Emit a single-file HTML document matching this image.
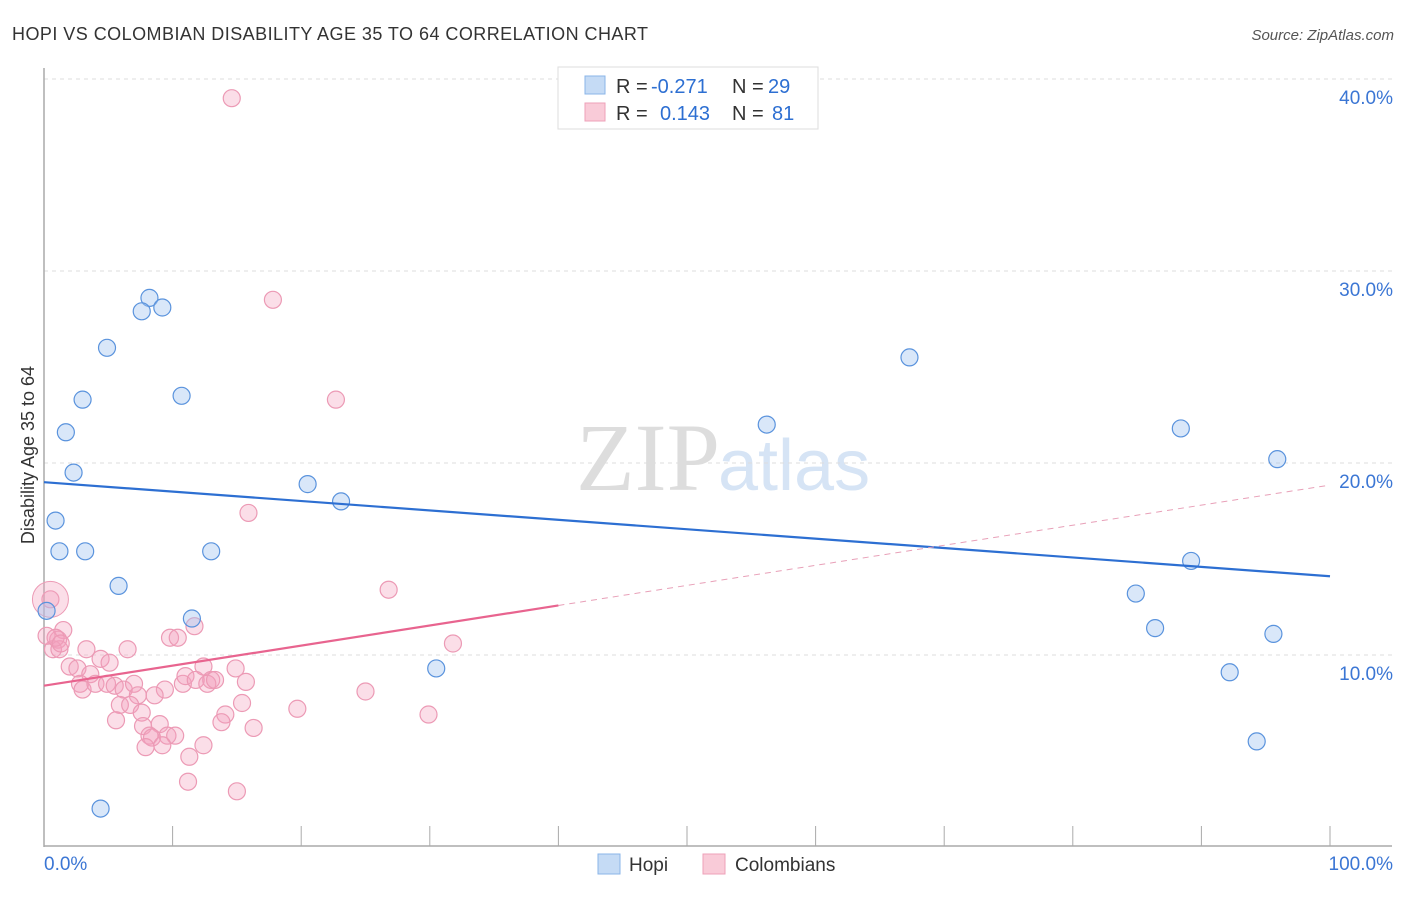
<!DOCTYPE html>
<html><head><meta charset="utf-8"><style>
body{margin:0;background:#fff;font-family:"Liberation Sans",sans-serif}
svg text{font-family:"Liberation Sans",sans-serif}
</style></head><body>
<svg width="1406" height="892" id="c">
<text x="12" y="40" font-size="18" fill="#333" textLength="636">HOPI VS COLOMBIAN DISABILITY AGE 35 TO 64 CORRELATION CHART</text>
<text x="1394" y="40" font-size="15" fill="#555" font-style="italic" text-anchor="end">Source: ZipAtlas.com</text>
<text x="720" y="490" font-size="96" fill="#ddd" text-anchor="end" style="font-family:'Liberation Serif',serif">ZIP</text>
<text x="718" y="490" font-size="72" fill="#d6e4f5">atlas</text>
<g id="grid"></g><g id="axes"></g><g id="pts"></g><g id="lines"></g>
<text x="34" y="455" font-size="18" fill="#333" text-anchor="middle" transform="rotate(-90 34 455)">Disability Age 35 to 64</text>
<g>
<rect x="558" y="67" width="260" height="62" fill="#fff" stroke="#ddd"/>
<rect x="585" y="76" width="20" height="18" fill="#c5dbf5" stroke="#8ab4e8"/>
<rect x="585" y="103" width="20" height="18" fill="#f9cbd8" stroke="#eea0b8"/>
<text x="616" y="93" font-size="20" fill="#333">R =</text>
<text x="651" y="93" font-size="20" fill="#2d6fd2">-0.271</text>
<text x="732" y="93" font-size="20" fill="#333">N =</text>
<text x="768" y="93" font-size="20" fill="#2d6fd2">29</text>
<text x="616" y="120" font-size="20" fill="#333">R =</text>
<text x="660" y="120" font-size="20" fill="#2d6fd2">0.143</text>
<text x="732" y="120" font-size="20" fill="#333">N =</text>
<text x="772" y="120" font-size="20" fill="#2d6fd2">81</text>
</g>
<g>
<rect x="598" y="854" width="22" height="20" fill="#c5dbf5" stroke="#8ab4e8"/>
<text x="629" y="871" font-size="19" fill="#333">Hopi</text>
<rect x="703" y="854" width="22" height="20" fill="#f9cbd8" stroke="#eea0b8"/>
<text x="735" y="871" font-size="19" fill="#333">Colombians</text>
</g>
</svg>
<script>
const yTicks=[10,20,30,40];
const xTickLabels=["0.0%","100.0%"];
const hopiX=[8.2,7.6,9.2,4.9,3.0,10.7,1.7,2.3,0.9,1.2,3.2,5.8,13.0,20.5,23.1,11.5,0.2,30.5,4.4,56.2,67.3,88.4,95.9,89.2,84.9,86.4,95.6,92.2,94.3];
const hopiY=[28.6,27.9,28.1,26.0,23.3,23.5,21.6,19.5,17.0,15.4,15.4,13.6,15.4,18.9,18.0,11.9,12.3,9.3,2.0,22.0,25.5,21.8,20.2,14.9,13.2,11.4,11.1,9.1,5.5];
const colX=[1.5,1.1,0.7,1.2,3.3,4.4,5.1,6.5,9.8,10.4,11.7,26.8,31.8,2.0,2.6,3.6,2.8,3.0,4.0,4.9,5.5,6.2,7.0,7.3,9.4,8.6,10.8,11.0,12.4,11.8,13.0,12.7,13.3,14.9,15.7,15.4,14.1,13.8,16.3,19.7,25.0,29.9,5.9,6.7,7.6,5.6,7.7,9.0,8.2,8.4,9.6,10.2,12.4,7.9,9.2,11.3,11.2,15.0,0.5,14.6,17.8,22.7,15.9,0.2,0.9,1.3];
const colY=[11.3,10.8,10.3,10.3,10.3,9.8,9.6,10.3,10.9,10.9,11.5,13.4,10.6,9.4,9.3,9.0,8.5,8.2,8.5,8.5,8.4,8.2,8.5,7.9,8.2,7.9,8.5,8.9,9.4,8.7,8.7,8.5,8.7,9.3,8.6,7.5,6.9,6.5,6.2,7.2,8.1,6.9,7.4,7.4,7.0,6.6,6.3,6.4,5.8,5.7,5.8,5.8,5.3,5.2,5.3,4.7,3.4,2.9,12.9,39.0,28.5,23.3,17.4,11.0,10.9,10.6];
const X0=44,X1=1330,Y0=847,PX=192;
const sx=v=>X0+(X1-X0)*v/100, sy=v=>Y0-v*PX/10;
const NS="http://www.w3.org/2000/svg";
function mk(t,a,p){const e=document.createElementNS(NS,t);for(const k in a)e.setAttribute(k,a[k]);document.getElementById(p).appendChild(e);return e;}
yTicks.forEach(t=>{
 const l=mk('line',{x1:X0,x2:1392,y1:sy(t),y2:sy(t),stroke:'#ddd','stroke-dasharray':'4,4'},'grid');
 
 
 const tx=mk('text',{x:1393,y:sy(t)+25,'font-size':19,fill:'#3b76d4','text-anchor':'end'},'grid');
 tx.textContent=t.toFixed(1)+'%';
 
 
});
const ax=mk('line',{x1:X0,x2:X0,y1:68,y2:847,stroke:'#aaa','stroke-width':1.5},'axes');


const bx=mk('line',{x1:X0,x2:1392,y1:846,y2:846,stroke:'#aaa','stroke-width':1.5},'axes');


for(let i=0;i<=10;i++){const t=mk('line',{x1:sx(i*10),x2:sx(i*10),y1:826,y2:846,stroke:'#aaa'},'axes');
 
 }
[[0,'start',44],[100,'end',1393]].forEach((d,i)=>{const t=mk('text',{x:d[2],y:870,'font-size':19,fill:'#3b76d4','text-anchor':d[1]},'axes');t.textContent=xTickLabels[i];
 
 });
colX.forEach((x,i)=>{const c=mk('circle',{cx:sx(x),cy:sy(colY[i]),r:8.5,fill:'rgba(244,160,188,0.35)',stroke:'#ec9ab5','stroke-width':1.2},'pts');
 
 });
const big=mk('circle',{cx:sx(0.5),cy:sy(12.9),r:18,fill:'rgba(244,160,188,0.35)',stroke:'#ec9ab5'},'pts');


hopiX.forEach((x,i)=>{const c=mk('circle',{cx:sx(x),cy:sy(hopiY[i]),r:8.5,fill:'rgba(160,196,240,0.4)',stroke:'#5a93dd','stroke-width':1.2},'pts');
 
 });
const hopiTrend=[19.0,14.1], colTrend=[8.4,18.85];
const bl=mk('line',{x1:sx(0),y1:sy(hopiTrend[0]),x2:sx(100),y2:sy(hopiTrend[1]),stroke:'#2d6fd2','stroke-width':2.2},'lines');


const mid=40, ym=colTrend[0]+(colTrend[1]-colTrend[0])*mid/100;
const pl=mk('line',{x1:sx(0),y1:sy(colTrend[0]),x2:sx(mid),y2:sy(ym),stroke:'#e8648f','stroke-width':2.2},'lines');


const pd=mk('line',{x1:sx(mid),y1:sy(ym),x2:sx(100),y2:sy(colTrend[1]),stroke:'#e8a0b8','stroke-width':1,'stroke-dasharray':'6,5'},'lines');


</script>
</body></html>
